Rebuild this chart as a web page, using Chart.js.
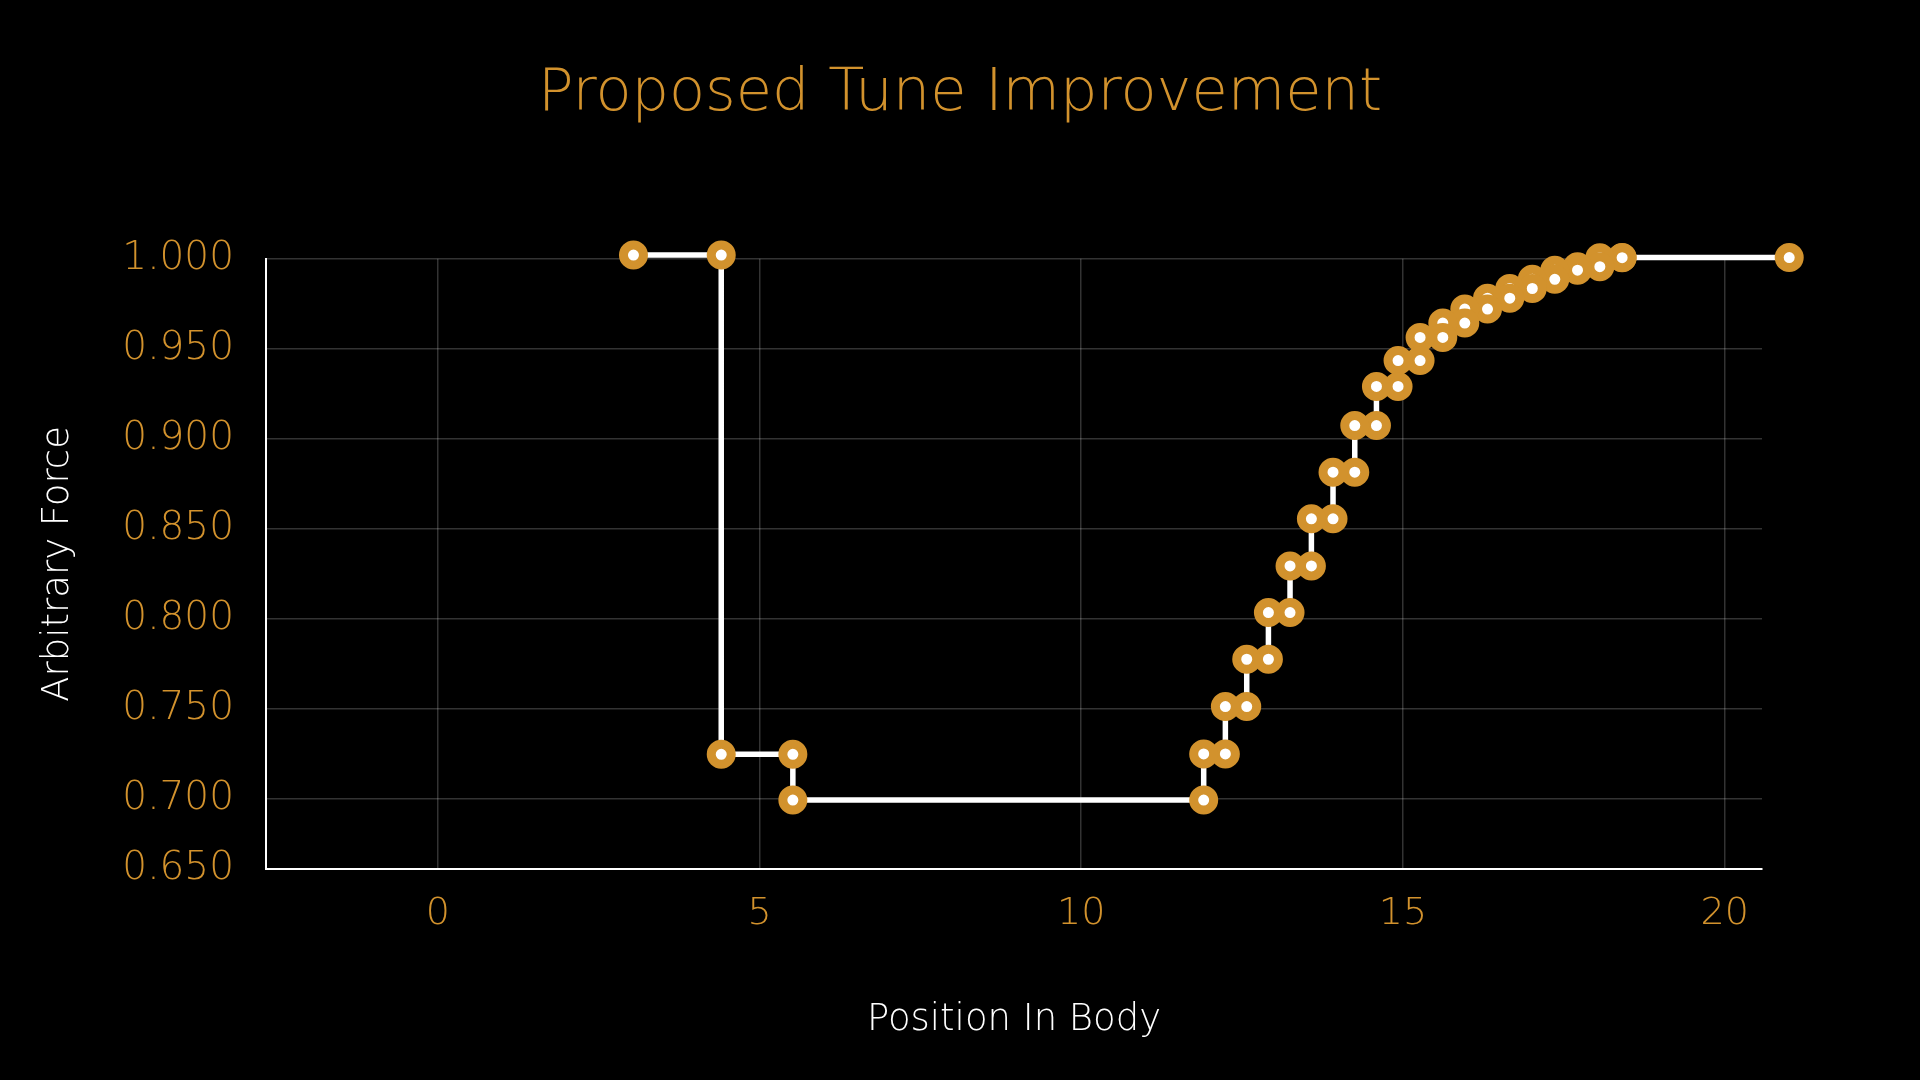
<!DOCTYPE html>
<html>
<head>
<meta charset="utf-8">
<title>Proposed Tune Improvement</title>
<script src="https://cdn.jsdelivr.net/npm/chart.js@4.4.1/dist/chart.umd.min.js"></script>
<style>
  html, body { margin: 0; padding: 0; background: #000; }
  #wrap { width: 1920px; height: 1080px; }
</style>
</head>
<body>
<div id="wrap"><canvas id="c" width="1920" height="1080"></canvas></div>
<script>
// ---- data (left to right, each step has a start and end point) ----
const positionX = [
  3.041, 4.405,
  4.405, 5.518,
  5.518, 11.903,
  11.903, 12.240,
  12.240, 12.572,
  12.572, 12.909,
  12.909, 13.245,
  13.245, 13.577,
  13.577, 13.913,
  13.913, 14.251,
  14.251, 14.588,
  14.588, 14.924,
  14.924, 15.266,
  15.266, 15.619,
  15.619, 15.961,
  15.961, 16.314,
  16.314, 16.660,
  16.660, 17.010,
  17.010, 17.360,
  17.360, 17.713,
  17.713, 18.060,
  18.060, 18.406,
  18.406, 21.003
];
const force = [
  1.0021, 1.0021,
  0.7248, 0.7248,
  0.6994, 0.6994,
  0.7250, 0.7250,
  0.7513, 0.7513,
  0.7776, 0.7776,
  0.8035, 0.8035,
  0.8294, 0.8294,
  0.8556, 0.8556,
  0.8815, 0.8815,
  0.9074, 0.9074,
  0.9291, 0.9291,
  0.9435, 0.9435,
  0.9563, 0.9563,
  0.9643, 0.9643,
  0.9721, 0.9721,
  0.9781, 0.9781,
  0.9835, 0.9835,
  0.9886, 0.9886,
  0.9937, 0.9937,
  0.9956, 0.9956,
  1.0006, 1.0006,
  1.0007, 1.0007
];
const xTicks = [0, 5, 10, 15, 20];
const yTicks = [0.65, 0.70, 0.75, 0.80, 0.85, 0.90, 0.95, 1.00];
const xRange = [-2.67, 20.58];
const yRange = [0.6611, 1.0];

const ORANGE = '#D2922D';
const GRID = 'rgba(255,255,255,0.2)';
const FONT = '"DejaVu Sans", sans-serif';

Chart.defaults.font.family = FONT;
Chart.defaults.font.weight = '200';

// drawn right to left, like the reference (lower markers overlap upper ones)
const points = positionX.map((x, i) => ({ x: x, y: force[i] })).reverse();

const bg = {
  id: 'bg',
  beforeDraw(chart) {
    const ctx = chart.ctx;
    ctx.save();
    ctx.fillStyle = '#000';
    ctx.fillRect(0, 0, chart.width, chart.height);
    ctx.restore();
  }
};

new Chart(document.getElementById('c'), {
  type: 'scatter',
  data: {
    datasets: [{
      label: 'Arbitrary Force',
      data: points,
      showLine: true,
      borderColor: '#ffffff',
      borderWidth: 5.5,
      tension: 0,
      pointRadius: 10,
      pointHoverRadius: 40,
      pointBorderWidth: 9,
      pointHoverBorderWidth: 9,
      pointBackgroundColor: '#ffffff',
      pointBorderColor: ORANGE,
      clip: false
    }]
  },
  options: {
    responsive: false,
    animation: false,
    devicePixelRatio: 1,
    events: [],
    layout: { padding: 0 },
    plugins: {
      legend: { display: false },
      tooltip: { enabled: false },
      title: {
        display: true,
        text: 'Proposed Tune Improvement',
        color: ORANGE,
        font: { family: FONT, size: 59, weight: '200' },
        padding: { top: 59, bottom: 129 }
      }
    },
    scales: {
      x: {
        type: 'linear',
        min: xRange[0],
        max: xRange[1],
        afterBuildTicks: s => { s.ticks = xTicks.map(v => ({ value: v })); },
        afterFit: s => { s.height = 211; },
        grid: { color: GRID, lineWidth: 1.5, drawTicks: false },
        border: { color: '#ffffff', width: 2 },
        ticks: {
          color: ORANGE,
          font: { size: 38, weight: '200' },
          padding: 22,
          maxRotation: 0,
          autoSkip: false,
          callback: (v, i) => String(xTicks[i])
        },
        title: {
          display: true,
          text: 'Position In Body',
          color: '#ffffff',
          font: { size: 37, weight: '200' },
          padding: { top: 0, bottom: 37 }
        }
      },
      y: {
        type: 'linear',
        position: 'left',
        min: yRange[0],
        max: yRange[1],
        afterBuildTicks: s => { s.ticks = yTicks.map(v => ({ value: Math.max(v, s.min) })); },
        afterFit: s => { s.width = 266; },
        grid: { color: GRID, lineWidth: 1.5, drawTicks: false },
        border: { color: '#ffffff', width: 2 },
        ticks: {
          color: ORANGE,
          font: { size: 39, weight: '200' },
          padding: 32,
          autoSkip: false,
          callback: (v, i) => yTicks[i].toFixed(3)
        },
        title: {
          display: true,
          text: 'Arbitrary Force',
          color: '#ffffff',
          font: { size: 37, weight: '200' },
          padding: { top: 36, bottom: 0 }
        }
      },
      yRight: {
        type: 'linear',
        position: 'right',
        display: true,
        afterFit: s => { s.width = 158; },
        grid: { display: false, drawTicks: false },
        border: { display: false },
        ticks: { display: false }
      }
    }
  },
  plugins: [bg]
});
</script>
</body>
</html>
